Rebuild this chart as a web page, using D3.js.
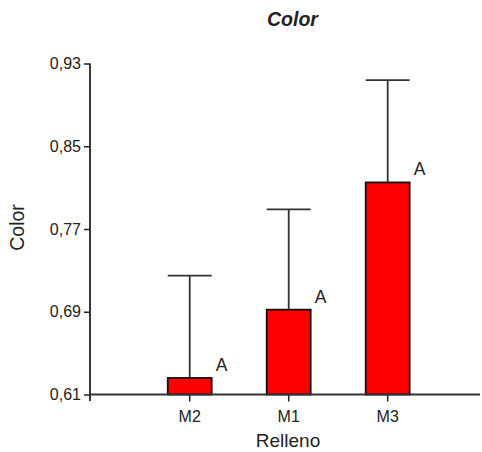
<!DOCTYPE html>
<html>
<head>
<meta charset="utf-8">
<script src="https://cdn.jsdelivr.net/npm/d3@7"></script>
<style>
  body { margin: 0; background: #fff; }
  text { font-family: "Liberation Sans", Arial, sans-serif; fill: #222; }
</style>
</head>
<body>
<svg id="chart" width="482" height="452"></svg>
<script>
// data
var categories = ["M2", "M1", "M3"];
var means = [0.626, 0.692, 0.815];
var errTops = [0.725, 0.789, 0.914];
var letters = ["A", "A", "A"];
var yTicks = [0.61, 0.69, 0.77, 0.85, 0.93];

var svg = d3.select("#chart");

var x = d3.scaleBand()
  .domain(categories)
  .range([90, 480])
  .paddingInner(0.556)
  .paddingOuter(0.748)
  .align(0.525);

var y = d3.scaleLinear()
  .domain([0.61, 0.93])
  .range([394.5, 63.5]);

var fmt = function (d) { return d3.format(".2f")(d).replace(".", ","); };

// error bars (drawn first, bar covers the lower part)
var err = svg.append("g");
categories.forEach(function (c, i) {
  var cx = x(c) + x.bandwidth() / 2;
  err.append("line")
    .attr("x1", cx).attr("x2", cx)
    .attr("y1", y(means[i])).attr("y2", y(errTops[i]))
    .attr("stroke", "#333").attr("stroke-width", 1.8);
  err.append("line")
    .attr("x1", x(c)).attr("x2", x(c) + x.bandwidth())
    .attr("y1", y(errTops[i])).attr("y2", y(errTops[i]))
    .attr("stroke", "#333").attr("stroke-width", 1.8);
});

svg.selectAll("rect.bar")
  .data(categories)
  .enter().append("rect")
  .attr("class", "bar")
  .attr("x", function (d) { return x(d); })
  .attr("width", x.bandwidth())
  .attr("y", function (d, i) { return y(means[i]); })
  .attr("height", function (d, i) { return y(0.61) - y(means[i]); })
  .attr("fill", "#ff0000")
  .attr("stroke", "#111")
  .attr("stroke-width", 1.8);

svg.selectAll("text.letter")
  .data(categories)
  .enter().append("text")
  .attr("class", "letter")
  .attr("x", function (d) { return x(d) + x.bandwidth() + 4; })
  .attr("y", function (d, i) { return y(means[i]) - 7; })
  .style("font-size", "17.5px")
  .text(function (d, i) { return letters[i]; });

// axes
var yAxis = svg.append("g")
  .attr("transform", "translate(90,0)")
  .call(d3.axisLeft(y).tickValues(yTicks).tickFormat(fmt).tickSize(6).tickPadding(3));
var xAxis = svg.append("g")
  .attr("transform", "translate(0,394.5)")
  .call(d3.axisBottom(x).tickSize(7).tickPadding(9));

[yAxis, xAxis].forEach(function (g) {
  g.select(".domain").remove();
  g.selectAll(".tick line").attr("stroke", "#222").attr("stroke-width", 1.5);
  g.selectAll(".tick text")
    .style("font-family", "Liberation Sans, Arial, sans-serif")
    .style("font-size", "16px").style("fill", "#222");
});

svg.append("line")
  .attr("x1", 90).attr("x2", 90)
  .attr("y1", y(0.93)).attr("y2", 401)
  .attr("stroke", "#222").attr("stroke-width", 1.8);
svg.append("line")
  .attr("x1", 90).attr("x2", 480)
  .attr("y1", y(0.61)).attr("y2", y(0.61))
  .attr("stroke", "#333").attr("stroke-width", 1.8);

// titles
svg.append("text")
  .attr("x", 292.5).attr("y", 26)
  .attr("text-anchor", "middle")
  .style("font-size", "19.5px")
  .style("font-weight", "bold")
  .style("font-style", "italic")
  .text("Color");

svg.append("text")
  .attr("x", 288).attr("y", 447)
  .attr("text-anchor", "middle")
  .style("font-size", "19px")
  .text("Relleno");

svg.append("text")
  .attr("transform", "translate(24,227.5) rotate(-90)")
  .attr("text-anchor", "middle")
  .style("font-size", "19.5px")
  .text("Color");
</script>
</body>
</html>
